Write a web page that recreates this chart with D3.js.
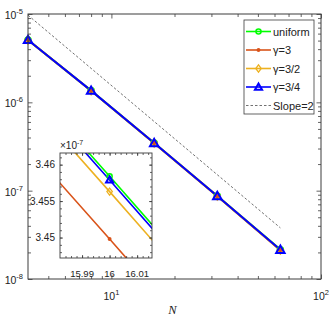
<!DOCTYPE html>
<html>
<head>
<meta charset="utf-8">
<script src="https://cdn.jsdelivr.net/npm/d3@7/dist/d3.min.js"></script>
<style>
  html, body { margin: 0; padding: 0; background: #fff; }
  svg { display: block; font-family: "Liberation Sans", Arial, sans-serif; }
</style>
</head>
<body>
<div id="chart"></div>
<script>
// data
const N = [4, 8, 16, 32, 64];
const uniform = [5.09e-6, 1.357e-6, 3.4584e-7, 8.70e-8, 2.15e-8];
const gamma3 = [5.07e-6, 1.352e-6, 3.4498e-7, 8.66e-8, 2.12e-8];
const gamma32 = [5.08e-6, 1.355e-6, 3.4563e-7, 8.68e-8, 2.13e-8];
const gamma34 = [5.09e-6, 1.356e-6, 3.4579e-7, 8.69e-8, 2.14e-8];
const slopeN = [4, 64];
const slopeE = [9.7e-6, 3.79e-8];

const xMajor = [10, 100];
const xMajorExp = ["1", "2"];
const yMajor = [1e-8, 1e-7, 1e-6, 1e-5];
const yMajorExp = ["-8", "-7", "-6", "-5"];

const insetXTicks = [15.99, 16, 16.01];
const insetXLabels = ["15.99", "16", "16.01"];
const insetYTicks = [3.45e-7, 3.455e-7, 3.46e-7];
const insetYLabels = ["3.45", "3.455", "3.46"];

const series = [
  { name: "uniform", values: uniform, color: "#00ff00", marker: "circle" },
  { name: "γ=3", values: gamma3, color: "#d95319", marker: "dot" },
  { name: "γ=3/2", values: gamma32, color: "#edb120", marker: "diamond" },
  { name: "γ=3/4", values: gamma34, color: "#0000ff", marker: "triangle" }
];

// layout
const W = 332, H = 316;
const box = { left: 28, right: 321, top: 14, bottom: 279 };
const inBox = { left: 60, right: 152, top: 153, bottom: 258 };
const axisColor = "#3c3c3c";

const svg = d3.select("#chart").append("svg")
  .attr("width", W).attr("height", H)
  .attr("viewBox", `0 0 ${W} ${H}`);

const x = d3.scaleLog().domain([4, 100]).range([box.left, box.right]);
const y = d3.scaleLog().domain([1e-8, 1e-5]).range([box.bottom, box.top]);

// minor ticks
const xMinor = [5, 6, 7, 8, 9, 20, 30, 40, 50, 60, 70, 80, 90];
const yMinor = [];
for (const d of [1e-8, 1e-7, 1e-6]) for (let k = 2; k <= 9; k++) yMinor.push(d * k);

function tickGroup(axisFn, scale, vals, len, tx, ty) {
  svg.append("g")
    .attr("transform", `translate(${tx},${ty})`)
    .call(axisFn(scale).tickValues(vals).tickSize(len).tickFormat(""))
    .call(g => g.select(".domain").remove())
    .call(g => g.selectAll("line").attr("stroke", axisColor).attr("stroke-width", 0.8));
}

// main plot lines
const line = (sx, sy) => d3.line().x(d => sx(d[0])).y(d => sy(d[1]));
const mainLine = line(x, y);

series.forEach(s => {
  svg.append("path")
    .datum(N.map((n, i) => [n, s.values[i]]))
    .attr("d", mainLine)
    .attr("fill", "none")
    .attr("stroke", s.color)
    .attr("stroke-width", 2);
});

svg.append("path")
  .datum(slopeN.map((n, i) => [n, slopeE[i]]))
  .attr("d", mainLine)
  .attr("fill", "none")
  .attr("stroke", "#333")
  .attr("stroke-width", 0.7)
  .attr("stroke-dasharray", "2.5,2");

function drawMarker(g, type, cx, cy, color, size) {
  const s = size || 1;
  if (type === "circle") {
    g.append("circle").attr("cx", cx).attr("cy", cy).attr("r", 3 * s)
      .attr("fill", "none").attr("stroke", color).attr("stroke-width", 1.5);
  } else if (type === "dot") {
    g.append("circle").attr("cx", cx).attr("cy", cy).attr("r", 2.3 * s)
      .attr("fill", color).attr("stroke", "none");
  } else if (type === "diamond") {
    const a = 3.2 * s, b = 4.2 * s;
    g.append("path").attr("d", `M${cx},${cy - b}L${cx + a},${cy}L${cx},${cy + b}L${cx - a},${cy}Z`)
      .attr("fill", "none").attr("stroke", color).attr("stroke-width", 1.3);
  } else if (type === "triangle") {
    const a = 4.2 * s;
    g.append("path").attr("d", `M${cx},${cy - a}L${cx + a},${cy + a * 0.75}L${cx - a},${cy + a * 0.75}Z`)
      .attr("fill", "none").attr("stroke", color).attr("stroke-width", 2);
  }
}

const markG = svg.append("g");
series.forEach(s => {
  N.forEach((n, i) => drawMarker(markG, s.marker, x(n), y(s.values[i]), s.color));
});

// main box and ticks
svg.append("rect")
  .attr("x", box.left).attr("y", box.top)
  .attr("width", box.right - box.left).attr("height", box.bottom - box.top)
  .attr("fill", "none").attr("stroke", axisColor).attr("stroke-width", 1);

tickGroup(d3.axisBottom, x, xMinor, -3, 0, box.bottom);
tickGroup(d3.axisBottom, x, xMajor, -4.5, 0, box.bottom);
tickGroup(d3.axisTop, x, xMinor, -3, 0, box.top);
tickGroup(d3.axisTop, x, xMajor, -4.5, 0, box.top);
tickGroup(d3.axisLeft, y, yMinor, -3, box.left, 0);
tickGroup(d3.axisLeft, y, yMajor, -4.5, box.left, 0);
tickGroup(d3.axisRight, y, yMinor, -3, box.right, 0);
tickGroup(d3.axisRight, y, yMajor, -4.5, box.right, 0);

// tick labels with superscripts
function powLabel(g, px, py, exp, anchor) {
  const t = g.append("text").attr("x", px).attr("y", py)
    .attr("text-anchor", anchor).attr("font-size", 10.5).attr("fill", "#222");
  t.append("tspan").text("10");
  t.append("tspan").attr("dy", -5).attr("font-size", 7.5).text(exp);
}
const labG = svg.append("g");
xMajor.forEach((v, i) => powLabel(labG, x(v), 300, xMajorExp[i], "middle"));
yMajor.forEach((v, i) => powLabel(labG, 23, y(v) + 5, yMajorExp[i], "end"));

svg.append("text")
  .attr("x", (box.left + box.right) / 2 - 2).attr("y", 314)
  .attr("text-anchor", "middle")
  .attr("font-family", "'Liberation Serif', 'Times New Roman', serif")
  .attr("font-style", "italic").attr("font-size", 12.5)
  .attr("fill", "#222")
  .text("N");

// legend
const leg = svg.append("g");
leg.append("rect")
  .attr("x", 244).attr("y", 20).attr("width", 70).attr("height", 94)
  .attr("fill", "#fff").attr("stroke", axisColor).attr("stroke-width", 0.8);
const legRows = series.map(s => s.name).concat(["Slope=2"]);
legRows.forEach((name, i) => {
  const cy = 31.5 + i * 18.5;
  const s = series[i];
  if (s) {
    leg.append("line").attr("x1", 246).attr("x2", 271).attr("y1", cy).attr("y2", cy)
      .attr("stroke", s.color).attr("stroke-width", 1.6);
    drawMarker(leg, s.marker, 258.5, cy, s.color, 0.85);
  } else {
    leg.append("line").attr("x1", 246).attr("x2", 271).attr("y1", cy).attr("y2", cy)
      .attr("stroke", "#333").attr("stroke-width", 0.7).attr("stroke-dasharray", "2.5,2");
  }
  leg.append("text").attr("x", 273).attr("y", cy + 4)
    .attr("font-size", 11).attr("fill", "#222").text(name);
});

// inset (zoom around N = 16)
const xi = d3.scaleLog().domain([15.982, 16.0154]).range([inBox.left, inBox.right]);
const yi = d3.scaleLog().domain([3.4472e-7, 3.4616e-7]).range([inBox.bottom, inBox.top]);

svg.append("rect")
  .attr("x", inBox.left).attr("y", inBox.top)
  .attr("width", inBox.right - inBox.left).attr("height", inBox.bottom - inBox.top)
  .attr("fill", "#fff");

svg.append("clipPath").attr("id", "inclip")
  .append("rect")
  .attr("x", inBox.left).attr("y", inBox.top)
  .attr("width", inBox.right - inBox.left).attr("height", inBox.bottom - inBox.top);

const inG = svg.append("g").attr("clip-path", "url(#inclip)");
const inLine = line(xi, yi);
series.forEach(s => {
  inG.append("path")
    .datum(N.map((n, i) => [n, s.values[i]]))
    .attr("d", inLine)
    .attr("fill", "none")
    .attr("stroke", s.color)
    .attr("stroke-width", 1.6);
});
series.forEach(s => {
  drawMarker(inG, s.marker, xi(16), yi(s.values[2]), s.color, 0.85);
});

svg.append("rect")
  .attr("x", inBox.left).attr("y", inBox.top)
  .attr("width", inBox.right - inBox.left).attr("height", inBox.bottom - inBox.top)
  .attr("fill", "none").attr("stroke", axisColor).attr("stroke-width", 0.9);

const inXMinor = d3.range(15.984, 16.015, 0.002);
const inYMinor = d3.range(3.448e-7, 3.4615e-7, 0.001e-7);
tickGroup(d3.axisBottom, xi, inXMinor, -2, 0, inBox.bottom);
tickGroup(d3.axisBottom, xi, insetXTicks, -3, 0, inBox.bottom);
tickGroup(d3.axisTop, xi, inXMinor, -2, 0, inBox.top);
tickGroup(d3.axisTop, xi, insetXTicks, -3, 0, inBox.top);
tickGroup(d3.axisLeft, yi, inYMinor, -2, inBox.left, 0);
tickGroup(d3.axisLeft, yi, insetYTicks, -3, inBox.left, 0);
tickGroup(d3.axisRight, yi, inYMinor, -2, inBox.right, 0);
tickGroup(d3.axisRight, yi, insetYTicks, -3, inBox.right, 0);

insetXTicks.forEach((v, i) => {
  svg.append("text").attr("x", xi(v)).attr("y", 277)
    .attr("text-anchor", "middle").attr("font-size", 9.5).attr("fill", "#222")
    .text(insetXLabels[i]);
});
insetYTicks.forEach((v, i) => {
  svg.append("text").attr("x", 55).attr("y", yi(v) + 3.8)
    .attr("text-anchor", "end").attr("font-size", 10).attr("fill", "#222")
    .text(insetYLabels[i]);
});
const mult = svg.append("text").attr("x", inBox.left).attr("y", 149)
  .attr("font-size", 10).attr("fill", "#222");
mult.append("tspan").text("×10");
mult.append("tspan").attr("dy", -4.5).attr("font-size", 7).text("-7");
</script>
</body>
</html>
